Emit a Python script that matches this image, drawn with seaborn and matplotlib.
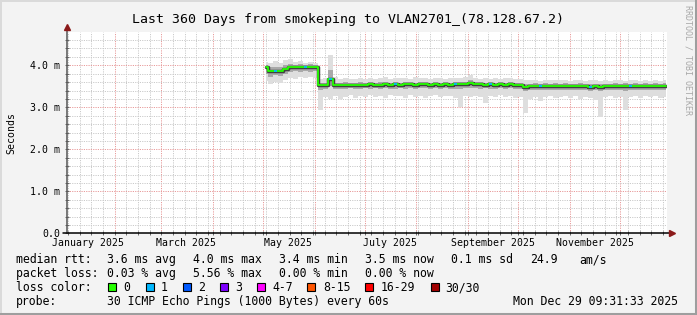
import numpy as np
import pandas as pd
import matplotlib
matplotlib.use("Agg")
import matplotlib.pyplot as plt
import matplotlib.dates as mdates
from matplotlib.ticker import MultipleLocator, NullFormatter, FixedLocator
from matplotlib.patches import Rectangle
from matplotlib.lines import Line2D
import seaborn as sns

# ---------------- data ----------------
title = "Last 360 Days from smokeping to VLAN2701_(78.128.67.2)"
x_start = pd.Timestamp("2025-01-03 09:31:33")
x_end = pd.Timestamp("2025-12-29 09:31:33")

sample_start = pd.Timestamp("2025-05-02 12:00")
n_samples = 81
sample_step = "3D"

median_ms = [3.95, 3.86, 3.87, 3.86, 3.92, 3.95, 3.96, 3.95, 3.96, 3.95,
             3.96, 3.54, 3.53, 3.68, 3.53, 3.54, 3.53, 3.54, 3.54, 3.53,
             3.54, 3.55, 3.54, 3.54, 3.55, 3.54, 3.55, 3.54, 3.55, 3.55,
             3.54, 3.55, 3.56, 3.54, 3.55, 3.54, 3.55, 3.54, 3.55, 3.56,
             3.55, 3.58, 3.56, 3.55, 3.54, 3.55, 3.54, 3.55, 3.54, 3.55,
             3.54, 3.53, 3.48, 3.50, 3.51, 3.50, 3.51, 3.50, 3.51, 3.50,
             3.51, 3.50, 3.50, 3.51, 3.50, 3.49, 3.50, 3.49, 3.50, 3.50,
             3.51, 3.50, 3.51, 3.50, 3.51, 3.50, 3.51, 3.50, 3.51, 3.50,
             3.51]
hi_ms = [4.08, 4.05, 4.10, 4.06, 4.12, 4.15, 4.08, 4.10, 4.06, 4.08,
         4.05, 3.68, 3.70, 4.24, 3.72, 3.68, 3.70, 3.68, 3.67, 3.70,
         3.68, 3.70, 3.68, 3.70, 3.72, 3.68, 3.70, 3.69, 3.70, 3.68,
         3.71, 3.69, 3.70, 3.68, 3.70, 3.69, 3.68, 3.70, 3.69, 3.70,
         3.72, 3.76, 3.70, 3.68, 3.69, 3.68, 3.70, 3.68, 3.69, 3.70,
         3.68, 3.67, 3.66, 3.64, 3.65, 3.63, 3.65, 3.64, 3.66, 3.64,
         3.65, 3.63, 3.64, 3.65, 3.63, 3.64, 3.65, 3.63, 3.64, 3.63,
         3.65, 3.64, 3.63, 3.64, 3.65, 3.63, 3.64, 3.63, 3.64, 3.63,
         3.64]
q3_ms = [4.00, 3.95, 3.97, 3.96, 4.00, 4.02, 4.01, 4.02, 4.01, 4.02,
         4.01, 3.59, 3.59, 3.90, 3.59, 3.59, 3.60, 3.59, 3.59, 3.60,
         3.59, 3.60, 3.59, 3.60, 3.60, 3.59, 3.60, 3.59, 3.60, 3.60,
         3.59, 3.60, 3.61, 3.59, 3.60, 3.59, 3.60, 3.59, 3.60, 3.61,
         3.60, 3.64, 3.61, 3.60, 3.59, 3.60, 3.59, 3.60, 3.59, 3.60,
         3.59, 3.58, 3.55, 3.56, 3.57, 3.56, 3.57, 3.56, 3.57, 3.56,
         3.57, 3.56, 3.56, 3.57, 3.56, 3.55, 3.56, 3.55, 3.56, 3.56,
         3.57, 3.56, 3.57, 3.56, 3.57, 3.56, 3.57, 3.56, 3.57, 3.56,
         3.57]
q1_ms = [3.80, 3.72, 3.76, 3.75, 3.80, 3.85, 3.86, 3.85, 3.86, 3.85,
         3.86, 3.42, 3.44, 3.50, 3.44, 3.43, 3.44, 3.45, 3.44, 3.43,
         3.45, 3.44, 3.45, 3.44, 3.45, 3.44, 3.43, 3.45, 3.44, 3.45,
         3.44, 3.45, 3.46, 3.44, 3.45, 3.44, 3.45, 3.44, 3.43, 3.44,
         3.45, 3.47, 3.45, 3.44, 3.45, 3.44, 3.43, 3.45, 3.44, 3.45,
         3.44, 3.43, 3.38, 3.41, 3.42, 3.41, 3.42, 3.41, 3.42, 3.41,
         3.42, 3.41, 3.41, 3.42, 3.41, 3.40, 3.41, 3.39, 3.41, 3.41,
         3.42, 3.41, 3.40, 3.41, 3.42, 3.41, 3.42, 3.41, 3.42, 3.41,
         3.42]
lo_ms = [3.62, 3.55, 3.60, 3.58, 3.65, 3.70, 3.68, 3.72, 3.70, 3.72,
         3.70, 2.93, 3.25, 3.20, 3.28, 3.20, 3.25, 3.30, 3.22, 3.28,
         3.25, 3.30, 3.24, 3.27, 3.22, 3.30, 3.26, 3.28, 3.23, 3.30,
         3.25, 3.28, 3.22, 3.27, 3.30, 3.24, 3.28, 3.26, 3.22, 3.00,
         3.26, 3.24, 3.28, 3.25, 3.10, 3.27, 3.24, 3.29, 3.25, 3.27,
         3.22, 3.25, 2.86, 3.20, 3.25, 3.15, 3.24, 3.27, 3.22, 3.25,
         3.28, 3.23, 3.26, 3.20, 3.25, 3.22, 3.18, 2.78, 3.24, 3.26,
         3.22, 3.25, 2.93, 3.24, 3.27, 3.22, 3.26, 3.24, 3.27, 3.23,
         3.25]
loss_samples = [2, 8, 13, 26, 38, 45, 55, 65, 73]

ytick_values = [0, 1, 2, 3, 4]
ytick_labels = ["0.0", "1.0 m", "2.0 m", "3.0 m", "4.0 m"]
xlabel_dates = ["2025-01-16", "2025-03-16", "2025-05-16",
                "2025-07-16", "2025-09-16", "2025-11-16"]
xlabel_texts = ["January 2025", "March 2025", "May 2025",
                "July 2025", "September 2025", "November 2025"]

legend_rows = [
    [(16, "median rtt:"), (107.3, "3.6 ms avg"), (193, "4.0 ms max"),
     (279.3, "3.4 ms min"), (365, "3.5 ms now"), (451, "0.1 ms sd"),
     (530, "24.9"), (579.3, "am/s")],
    [(16, "packet loss:"), (107.3, "0.03 % avg"), (193, "5.56 % max"),
     (279.3, "0.00 % min"), (365, "0.00 % now")],
    [(16, "loss color:")],
    [(16, "probe:"), (107.3, "30 ICMP Echo Pings (1000 Bytes) every 60s"),
     (512.7, "Mon Dec 29 09:31:33 2025")],
]
loss_labels = ["0", "1", "2", "3", "4-7", "8-15", "16-29", "30/30"]
loss_colors = ["#26ff00", "#00b8ff", "#0059ff", "#7e00ff",
               "#ff00ff", "#ff5500", "#ff0000", "#a00000"]
loss_box_x = [108.3, 145.7, 182.7, 220, 257, 307.3, 365.3, 430.7]
loss_text_x = [123.3, 161, 198.3, 235.7, 272.7, 323.3, 380.3, 445.3]

# ---------------- figure ----------------
W, H, DPI = 697, 315, 100
sns.set_style("white")
mono = "DejaVu Sans Mono"
plt.rcParams["font.family"] = [mono, "DejaVu Sans"]

fig = plt.figure(figsize=(W / DPI, H / DPI), dpi=DPI, facecolor="#f3f3f3")

def fx(x):
    return x / W

def fy(y):
    return 1 - y / H

# 3D frame
fig.add_artist(Line2D([fx(0.5), fx(0.5)], [fy(0), fy(314)], color="#dadada", lw=1.4))
fig.add_artist(Line2D([fx(0), fx(696)], [fy(0.5), fy(0.5)], color="#dadada", lw=1.4))
fig.add_artist(Line2D([fx(695.8), fx(695.8)], [fy(0), fy(315)], color="#9e9e9e", lw=2.2))
fig.add_artist(Line2D([fx(0), fx(697)], [fy(313.8), fy(313.8)], color="#9e9e9e", lw=2.2))

ax_l, ax_r, ax_t, ax_b = 67, 667, 32, 233.3
ax = fig.add_axes([fx(ax_l), fy(ax_b), (ax_r - ax_l) / W, (ax_b - ax_t) / H])
ax.set_facecolor("white")

df = pd.DataFrame({
    "date": pd.date_range(sample_start, periods=n_samples, freq=sample_step),
    "median": median_ms, "lo": lo_ms, "hi": hi_ms, "q1": q1_ms, "q3": q3_ms,
})

ax.fill_between(df["date"], df["lo"], df["hi"], step="mid",
                color="#dedede", lw=0, zorder=2)
ax.fill_between(df["date"], df["q1"], df["q3"], step="mid",
                color="#a9a9a9", lw=0, zorder=3)
sns.lineplot(data=df, x="date", y="median", ax=ax, color="#404040",
             lw=2.5, drawstyle="steps-mid", estimator=None, zorder=4)
sns.lineplot(data=df, x="date", y="median", ax=ax, color="#26ff00",
             lw=1.3, drawstyle="steps-mid", estimator=None, zorder=5)
half = pd.Timedelta(sample_step) / 2
for i in loss_samples:
    d = df["date"].iloc[i]
    ax.hlines(df["median"].iloc[i], d - half * 0.6, d + half * 0.6,
              color="#00b8ff", lw=1.3, zorder=6)

ax.set_xlim(x_start, x_end)
ax.set_ylim(0, (ax_b - ax_t) / 42.0)
ax.set_xlabel("")
ax.set_ylabel("")

# grid
ax.xaxis.set_major_locator(mdates.MonthLocator())
ax.xaxis.set_minor_locator(mdates.WeekdayLocator(byweekday=mdates.SA))
ax.xaxis.set_major_formatter(NullFormatter())
ax.yaxis.set_major_locator(FixedLocator(ytick_values))
ax.yaxis.set_minor_locator(MultipleLocator(0.2))
ax.set_yticks(ytick_values, ytick_labels)
ax.grid(which="minor", color="#cacaca", ls=(0, (1.2, 1.2)), lw=0.7, zorder=1)
ax.grid(which="major", color="#e89a9a", ls=(0, (1.2, 1.2)), lw=0.7, zorder=1)
ax.set_axisbelow(True)

for s in ax.spines.values():
    s.set_visible(False)
ax.tick_params(axis="y", which="both", direction="inout", length=3,
               width=0.6, color="#555555", labelsize=7.1, pad=3.5,
               left=True, labelcolor="#000000")
ax.tick_params(axis="x", which="both", direction="inout", length=2.5,
               width=0.6, color="#555555", bottom=True)
for lab in ax.get_yticklabels():
    lab.set_fontfamily(mono)

# axis lines and arrows
ax.add_line(Line2D([0, 0], [0, 1.01], transform=ax.transAxes, color="#555555",
                   lw=1.1, clip_on=False, zorder=7))
ax.add_line(Line2D([-0.007, 1.004], [0, 0], transform=ax.transAxes, color="#000000",
                   lw=1.1, clip_on=False, zorder=7))
ax.plot([0], [1.024], marker="^", color="#8b1a1a", markersize=4.5,
        transform=ax.transAxes, clip_on=False, zorder=8)
ax.plot([1.0085], [0], marker=">", color="#8b1a1a", markersize=4.5,
        transform=ax.transAxes, clip_on=False, zorder=8)

# x labels
for d, t in zip(xlabel_dates, xlabel_texts):
    ax.text(mdates.date2num(pd.Timestamp(d)), -(245.5 - ax_b) / (ax_b - ax_t), t,
            transform=ax.get_xaxis_transform(), ha="center", va="baseline",
            fontsize=7.1, family=mono, color="#000000")

# title, y label, watermark
fig.text(fx(348.5), fy(22.5), title, ha="center", va="baseline",
         fontsize=9.5, family=mono, color="#000000")
fig.text(fx(11), fy(133), "Seconds", rotation=90, ha="center", va="center",
         fontsize=7.1, family=mono, color="#000000")
fig.text(fx(688), fy(5), "RRDTOOL / TOBI OETIKER", rotation=270,
         ha="center", va="top", fontsize=6, family=mono, color="#a8a8a8")

# legend
baselines = [263.3, 277.3, 291.2, 305.2]
for row, base in zip(legend_rows, baselines):
    for x, t in row:
        fig.text(fx(x), fy(base), t, ha="left", va="baseline",
                 fontsize=8.3, family=mono, color="#000000")
for bx, tx, lab, col in zip(loss_box_x, loss_text_x, loss_labels, loss_colors):
    fig.patches.append(Rectangle((fx(bx), fy(290.7)), 8 / W, 8 / H,
                                 transform=fig.transFigure, facecolor=col,
                                 edgecolor="#000000", lw=0.8))
    fig.text(fx(tx), fy(baselines[2]), lab, ha="left", va="baseline",
             fontsize=8.3, family=mono, color="#000000")

fig.savefig("out.png", dpi=DPI, facecolor=fig.get_facecolor())
